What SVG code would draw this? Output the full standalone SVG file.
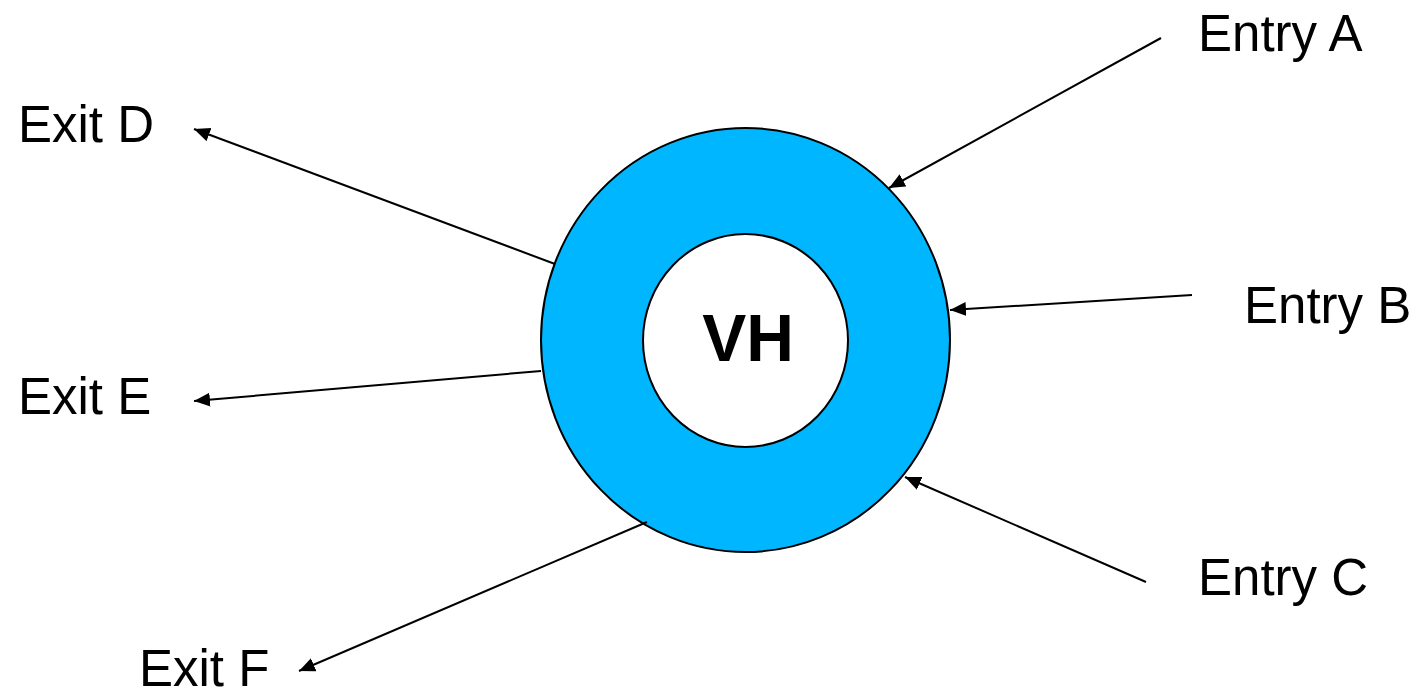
<svg xmlns="http://www.w3.org/2000/svg" width="1416" height="689" viewBox="0 0 1416 689">
  <style>
    .label { font-family: "Liberation Sans", Arial, sans-serif; font-size: 51px; fill: #000; }
    .core { font-family: "Liberation Sans", Arial, sans-serif; font-size: 66px; font-weight: bold; fill: #000; }
    .flow { stroke: #000; stroke-width: 2; fill: none; marker-end: url(#arrow); }
    .ring { fill: #00b6ff; stroke: #000; stroke-width: 2; }
    .hub { fill: #fff; stroke: #000; stroke-width: 2; }
  </style>
  <defs>
    <marker id="arrow" markerUnits="userSpaceOnUse" markerWidth="17" markerHeight="15" refX="16" refY="7" orient="auto">
      <path d="M0,0 L16,7 L0,14 z" fill="#000"/>
    </marker>
  </defs>
  <rect width="1416" height="689" fill="#fff"/>

  <!-- hub node -->
  <g id="node-vh">
    <ellipse class="ring" cx="745.5" cy="340" rx="204.5" ry="212"/>
    <ellipse class="hub" cx="745.5" cy="340.5" rx="102.5" ry="106.5"/>
    <text class="core" x="748" y="361" text-anchor="middle">VH</text>
  </g>

  <!-- connectors -->
  <g id="connectors">
    <line class="flow" x1="1161" y1="38" x2="889" y2="188"/>
    <line class="flow" x1="1192" y1="295" x2="950" y2="310"/>
    <line class="flow" x1="1146" y1="582" x2="905" y2="477"/>
    <line class="flow" x1="555" y1="264" x2="194" y2="129"/>
    <line class="flow" x1="541" y1="371" x2="194" y2="401"/>
    <line class="flow" x1="647" y1="522" x2="299" y2="671"/>
  </g>

  <!-- endpoint labels -->
  <g id="node-entry-a"><text class="label" x="1198" y="51">Entry A</text></g>
  <g id="node-entry-b"><text class="label" x="1244" y="323">Entry B</text></g>
  <g id="node-entry-c"><text class="label" x="1198" y="595">Entry C</text></g>
  <g id="node-exit-d"><text class="label" x="18" y="142">Exit D</text></g>
  <g id="node-exit-e"><text class="label" x="18" y="414">Exit E</text></g>
  <g id="node-exit-f"><text class="label" x="139" y="686">Exit F</text></g>
</svg>
